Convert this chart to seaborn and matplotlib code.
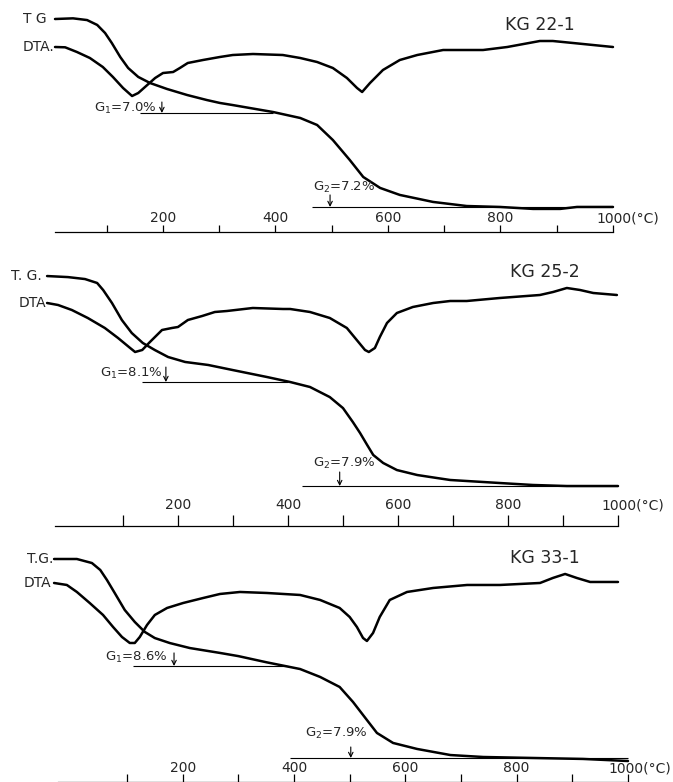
import matplotlib
matplotlib.use("Agg")
import matplotlib.pyplot as plt
import seaborn as sns

sns.set_style("white")
plt.rcParams['font.family'] = ['DejaVu Sans']
plt.rcParams['mathtext.fontset'] = 'dejavusans'

# ---------------- data ----------------
samples = ["KG 22-1", "KG 25-2", "KG 33-1"]
tg_labels = ["T G", "T. G.", "T.G."]
dta_labels = ["DTA.", "DTA", "DTA"]
g1_texts = ["7.0%", "8.1%", "8.6%"]
g2_texts = ["7.2%", "7.9%", "7.9%"]
g1_levels = [7.12, 8.09, 8.77]      # TG level (mass loss %) after first step
g2_levels = [14.24, 16.03, 16.31]   # TG level (mass loss %) at the end
tick_temps = [100, 200, 300, 400, 500, 600, 700, 800, 900, 1000]
label_temps = [200, 400, 600, 800]
last_label = "1000(°C)"

# KG 22-1
p1_tg_temp = [8, 40, 65, 83, 97, 109, 124, 138, 156, 177, 207, 243, 278, 301, 324, 396, 444, 474, 502,
              532, 556, 586, 621, 680, 740, 799, 858, 906, 936, 1000]
p1_tg_loss = [0, -0.05, 0.08, 0.45, 1.06, 1.82, 2.88, 3.71, 4.39, 4.85, 5.30, 5.76, 6.14, 6.36, 6.52,
              7.05, 7.5, 8.03, 9.17, 10.68, 11.97, 12.8, 13.33, 13.86, 14.17, 14.24, 14.39, 14.39, 14.24,
              14.24]
p1_dta_temp = [8, 26, 47, 70, 93, 111, 129, 145, 156, 172, 186, 200, 218, 230, 244, 271, 301, 324, 360,
               413, 444, 474, 502, 527, 545, 554, 568, 591, 621, 652, 698, 769, 812, 870, 893, 929, 1000]
p1_dta_val = [0, -0.3, -5, -11, -20, -30, -41, -49, -46, -38, -31, -26, -25, -21, -16, -13, -10, -8, -7,
              -8, -11, -15, -21, -31, -41, -45, -36, -23, -13, -8, -3, -3, 0, 6, 6, 4, 0]

# KG 25-2
p2_tg_temp = [-38, 0, 31, 53, 64, 80, 98, 116, 136, 158, 182, 213, 255, 300, 362, 404, 440, 476, 500,
              518, 531, 544, 555, 573, 598, 635, 671, 695, 785, 845, 907, 1000]
p2_tg_loss = [0, 0.08, 0.23, 0.53, 1.07, 2.06, 3.36, 4.35, 5.11, 5.65, 6.18, 6.56, 6.79, 7.18, 7.71,
              8.09, 8.47, 9.24, 10.08, 11.15, 11.98, 12.90, 13.66, 14.27, 14.81, 15.19, 15.42, 15.57,
              15.80, 15.95, 16.03, 16.03]
p2_dta_temp = [-38, -18, 7, 36, 67, 91, 113, 122, 135, 149, 171, 189, 200, 218, 244, 267, 289, 336, 391,
               404, 440, 476, 507, 525, 540, 547, 558, 567, 580, 598, 627, 664, 695, 725, 785, 858, 882,
               907, 931, 955, 998]
p2_dta_val = [0, -2, -7, -15, -25, -35, -45, -49, -47, -39, -27, -25, -24, -17, -13, -9, -8, -5, -6,
              -6, -9, -15, -25, -37, -47, -49, -45, -34, -20, -10, -4, 0, 2, 2, 5, 8, 11, 15, 13, 10, 8]

# KG 33-1
p3_tg_temp = [-31, 10, 37, 52, 64, 78, 96, 114, 132, 150, 177, 213, 267, 300, 351, 411, 447, 482, 506,
              531, 549, 578, 621, 681, 740, 829, 919, 1000]
p3_tg_loss = [0, 0, 0.33, 0.90, 1.72, 2.79, 4.18, 5.16, 5.98, 6.48, 6.89, 7.30, 7.70, 7.96, 8.47, 9.02,
              9.67, 10.49, 11.72, 13.20, 14.26, 15.08, 15.57, 16.07, 16.23, 16.31, 16.39, 16.56]
p3_dta_temp = [-31, -8, 10, 33, 57, 75, 91, 105, 114, 123, 136, 150, 172, 201, 237, 267, 303, 351, 411,
               447, 482, 500, 513, 524, 531, 542, 554, 572, 603, 650, 711, 770, 842, 865, 887, 908, 932,
               982]
p3_dta_val = [0, -2, -9, -20, -32, -44, -54, -60, -60, -54, -42, -32, -25, -20, -15, -11, -9, -10, -12,
              -17, -25, -34, -44, -55, -58, -50, -34, -17, -9, -5, -2, -2, 0, 5, 9, 5, 1, 1]

tg_temps = [p1_tg_temp, p2_tg_temp, p3_tg_temp]
tg_losses = [p1_tg_loss, p2_tg_loss, p3_tg_loss]
dta_temps = [p1_dta_temp, p2_dta_temp, p3_dta_temp]
dta_vals = [p1_dta_val, p2_dta_val, p3_dta_val]

# ---------------- layout (positions / styles) ----------------
layout = [
    dict(rect=[0, 0.7033, 1, 0.2967], xlim=(-89.8, 1106.7), tg_ylim=(16.14, -1.44), dta_ylim=(-185, 47),
         spine_from=8, tick_len=5.0, lab_off=10, last_off=-12, g1_span=(159, 396), g2_span=(465, 1000),
         g1_arrow=198, g1_top=6.29, g2_arrow=497, g2_top=13.33,
         g1_txt=(189.5, 6.74), g2_txt=(467, 12.8), title=(808, 0.45), tg_off=-6, dta_off=-0.5),
    dict(rect=[0, 0.3274, 1, 0.3593], xlim=(-123.6, 1100), tg_ylim=(19.08, -2.37), dta_ylim=(-223, 58),
         spine_from=-24, tick_len=8.0, lab_off=15, last_off=-12, g1_span=(135, 400), g2_span=(425, 1000),
         g1_arrow=178, g1_top=6.95, g2_arrow=494, g2_top=14.96,
         g1_txt=(173, 7.40), g2_txt=(445, 14.27), title=(804, -0.31), tg_off=-3.5, dta_off=-0.5),
    dict(rect=[0, 0.0, 1, 0.3159], xlim=(-128.1, 1080.8), tg_ylim=(18.28, -1.97), dta_ylim=(-199, 48),
         spine_from=-24, tick_len=6.0, lab_off=10, last_off=-14, g1_span=(111, 390), g2_span=(393, 1000),
         g1_arrow=184.5, g1_top=7.70, g2_arrow=502, g2_top=15.41,
         g1_txt=(174, 8.11), g2_txt=(420, 14.26), title=(788, -0.08), tg_off=-0.8, dta_off=-2),
]

fig = plt.figure(figsize=(6.73, 7.82), dpi=100)
fig.patch.set_facecolor('white')

curve_lw = 1.8
thin_lw = 0.8
fs_tick = 10
fs_lab = 10
fs_g = 9.5
fs_title = 12.5

for i, L in enumerate(layout):
    ax = fig.add_axes(L['rect'])
    ax.set_facecolor('none')
    sns.lineplot(x=tg_temps[i], y=tg_losses[i], ax=ax, color='black', linewidth=curve_lw,
                 estimator=None, sort=False)
    ax2 = ax.twinx()
    ax2.set_facecolor('none')
    sns.lineplot(x=dta_temps[i], y=dta_vals[i], ax=ax2, color='black', linewidth=curve_lw,
                 estimator=None, sort=False)
    for ln in ax.lines + ax2.lines:
        ln.set_solid_joinstyle('round')
        ln.set_solid_capstyle('round')

    ax.set_xlim(*L['xlim'])
    ax.set_ylim(*L['tg_ylim'])
    ax2.set_ylim(*L['dta_ylim'])
    for a in (ax, ax2):
        a.set_xlabel('')
        a.set_ylabel('')
        a.set_yticks([])
    for s in ('top', 'left', 'right'):
        ax.spines[s].set_visible(False)
    for s in ax2.spines.values():
        s.set_visible(False)
    ax.spines['bottom'].set_visible(True)
    ax.spines['bottom'].set_color('black')
    ax.spines['bottom'].set_linewidth(0.9)
    ax.spines['bottom'].set_bounds(L['spine_from'], 1000)
    ax.set_xticks(tick_temps)
    ax.tick_params(axis='x', which='major', direction='in', length=L['tick_len'], width=0.9,
                   color='black', bottom=True, labelbottom=False)

    # temperature labels above the scale line
    for t in label_temps:
        ax.annotate(str(t), xy=(t, 0), xycoords=('data', 'axes fraction'),
                    xytext=(0, L['lab_off']), textcoords='offset points',
                    ha='center', va='center', fontsize=fs_tick)
    ax.annotate(last_label, xy=(1000, 0), xycoords=('data', 'axes fraction'),
                xytext=(L['last_off'], L['lab_off']), textcoords='offset points',
                ha='left', va='center', fontsize=fs_tick)

    # curve labels
    ax.annotate(tg_labels[i], xy=(tg_temps[i][0], tg_losses[i][0]), xytext=(L['tg_off'], 0),
                textcoords='offset points', ha='right', va='center', fontsize=fs_lab)
    ax2.annotate(dta_labels[i], xy=(dta_temps[i][0], dta_vals[i][0]), xytext=(L['dta_off'], 0),
                 textcoords='offset points', ha='right', va='center', fontsize=fs_lab)

    # sample name
    ax.text(L['title'][0], L['title'][1], samples[i], ha='left', va='center', fontsize=fs_title)

    # G1 / G2 level lines, arrows and texts
    ax.hlines(g1_levels[i], *L['g1_span'], color='black', lw=thin_lw)
    ax.hlines(g2_levels[i], *L['g2_span'], color='black', lw=thin_lw)
    ax.annotate('', xy=(L['g1_arrow'], g1_levels[i]), xytext=(L['g1_arrow'], L['g1_top']),
                arrowprops=dict(arrowstyle='->', lw=0.8, color='black', shrinkA=0, shrinkB=0,
                                mutation_scale=8))
    ax.annotate('', xy=(L['g2_arrow'], g2_levels[i]), xytext=(L['g2_arrow'], L['g2_top']),
                arrowprops=dict(arrowstyle='->', lw=0.8, color='black', shrinkA=0, shrinkB=0,
                                mutation_scale=8))
    ax.text(L['g1_txt'][0], L['g1_txt'][1], r'G$_1$=' + g1_texts[i],
            ha='right', va='center', fontsize=fs_g)
    ax.text(L['g2_txt'][0], L['g2_txt'][1], r'G$_2$=' + g2_texts[i],
            ha='left', va='center', fontsize=fs_g)

fig.savefig('out.png', dpi=100, facecolor='white')
